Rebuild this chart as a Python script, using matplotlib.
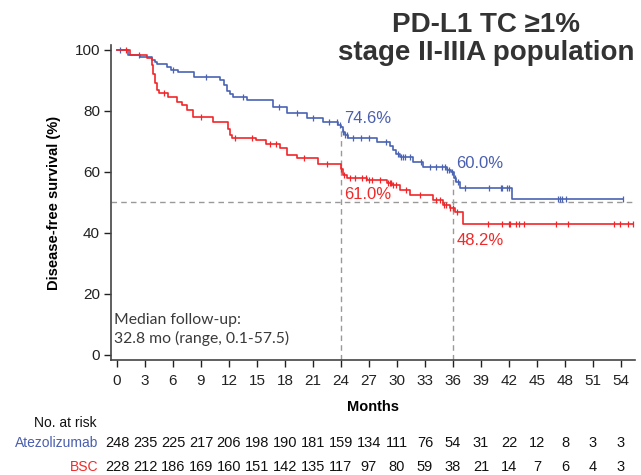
import numpy as np
import matplotlib
matplotlib.use("Agg")
import matplotlib.pyplot as plt

# Kaplan-Meier step data: event times (months) and survival (%) from each step onward
atezo_t = [0, 1.2, 2.5, 3.8, 4.1, 4.3, 5.4, 5.8, 6.5, 8.2, 11.0, 11.5, 11.8, 12.1, 12.4,
           13.9, 16.7, 18.2, 20.4, 22.1, 23.7, 24.0, 24.2, 24.4, 24.8, 27.9, 29.3, 29.6,
           29.9, 30.3, 31.7, 32.8, 35.4, 35.8, 36.1, 36.3, 36.8, 42.3]
atezo_s = [100, 98.4, 97.8, 96.8, 96.1, 95.4, 94.5, 93.4, 92.7, 91.2, 90.1, 88.5, 86.5, 85.4, 84.6,
           83.5, 81.3, 79.2, 77.6, 76.4, 75.5, 74.6, 73.0, 72.0, 71.0, 69.8, 68.4, 67.2,
           66.0, 64.9, 63.2, 61.6, 60.6, 60.0, 58.0, 56.7, 54.8, 51.0]
atezo_end = 54.2
atezo_cens = [0.3, 2.4, 6.0, 9.5, 13.5, 17.4, 19.3, 21.0, 22.7, 23.6, 23.9, 24.2, 24.4, 24.6,
              25.3, 26.1, 27.0, 28.8, 30.1, 30.4, 30.6, 30.9, 31.4, 32.6, 33.5, 34.2, 34.8, 35.1,
              35.4, 35.6, 35.9, 36.2, 36.5, 37.3, 39.9, 41.1, 41.3, 41.8, 42.0, 47.3, 47.5, 47.7,
              48.1, 54.2]

bsc_t = [0, 1.4, 3.2, 3.7, 3.9, 4.1, 4.3, 4.5, 5.5, 6.4, 7.0, 7.5, 8.1, 10.3, 11.9, 12.1,
         12.3, 14.9, 16.0, 17.5, 18.2, 19.3, 21.5, 24.0, 24.2, 24.6, 26.8, 28.9, 29.5, 30.3,
         31.4, 33.9, 34.9, 35.7, 36.2, 37.1]
bsc_s = [100, 98.4, 97.2, 95.0, 92.0, 89.0, 86.8, 85.7, 84.6, 83.0, 82.0, 80.3, 78.1, 76.4, 74.0, 72.0,
         71.0, 70.3, 69.0, 67.8, 65.5, 64.7, 62.7, 61.0, 58.9, 58.1, 57.4, 56.5, 55.6, 53.9,
         52.3, 50.7, 49.2, 48.2, 46.8, 42.8]
bsc_end = 55.3
bsc_cens = [1.0, 5.0, 9.0, 12.6, 14.5, 16.4, 17.0, 20.0, 22.5, 24.0, 24.3, 25.0, 25.5, 26.2,
            26.7, 27.0, 27.3, 28.2, 29.0, 29.2, 29.4, 29.6, 29.9, 31.0, 32.5, 34.2, 34.6, 35.0,
            35.3, 35.7, 36.0, 36.4, 39.8, 41.2, 42.0, 42.1, 42.7, 43.1, 43.6, 47.0, 48.3, 53.2,
            53.9, 54.7, 55.3]

# Landmark estimates
land_t = [24, 36]
atezo_land = [74.6, 60.0]
bsc_land = [61.0, 48.2]

months_ticks = list(range(0, 55, 3))
atezo_risk = [248, 235, 225, 217, 206, 198, 190, 181, 159, 134, 111, 76, 54, 31, 22, 12, 8, 3, 3]
bsc_risk = [228, 212, 186, 169, 160, 151, 142, 135, 117, 97, 80, 59, 38, 21, 14, 7, 6, 4, 3]

BLUE = "#4a63b3"
RED = "#f0262a"
BLUE_TXT = "#4a5fae"
RED_TXT = "#ee2a2a"
GREY = "#333333"

plt.rcParams["font.family"] = ["Liberation Sans", "DejaVu Sans"]

fig = plt.figure(figsize=(6.41, 4.75), dpi=100)
ax = fig.add_axes([111 / 641, 1 - 360 / 475, (635 - 111) / 641, (360 - 45) / 475])


def km_value(times, surv, t):
    idx = np.searchsorted(times, t, side="right") - 1
    return np.asarray(surv)[idx]


def draw_arm(times, surv, end, cens, color):
    tt = list(times) + [end]
    ss = list(surv) + [surv[-1]]
    ax.step(tt, ss, where="post", color=color, lw=1.2, zorder=3)
    cv = [km_value(times, surv, c) for c in cens]
    ax.plot(cens, cv, ls="none", marker="|", ms=5, mew=0.9, color=color, zorder=3)


draw_arm(atezo_t, atezo_s, atezo_end, atezo_cens, BLUE)
draw_arm(bsc_t, bsc_s, bsc_end, bsc_cens, RED)

# Reference lines for the median and the landmarks
dash = dict(color="#999999", lw=1.0, ls=(0, (4, 3)), zorder=1)
ax.plot([-0.64, 55.5], [50, 50], **dash)
for t, top in zip(land_t, atezo_land):
    ax.plot([t, t], [-1.7, top], **dash)

lab = dict(fontsize=12, va="center", ha="left")
ax.text(24.35, 77.5, f"{atezo_land[0]:.1f}%", color=BLUE_TXT, **lab)
ax.text(36.35, 62.8, f"{atezo_land[1]:.1f}%", color=BLUE_TXT, **lab)
ax.text(24.35, 52.5, f"{bsc_land[0]:.1f}%", color=RED_TXT, **lab)
ax.text(36.35, 37.5, f"{bsc_land[1]:.1f}%", color=RED_TXT, **lab)

ax.text(-0.35, 8.3, "Median follow-up:\n32.8 mo (range, 0.1-57.5)", fontsize=11.3,
        color="#3a3a3a", family=["Lato", "DejaVu Sans"], va="center", ha="left", linespacing=1.4)

ax.set_xlim(-0.64, 55.5)
ax.set_ylim(-1.7, 101.6)
ax.set_xticks(months_ticks)
ax.set_yticks([0, 20, 40, 60, 80, 100])
ax.tick_params(axis="both", labelsize=11, colors="#222222", length=5, width=1.0)
ax.tick_params(axis="x", pad=5)
ax.tick_params(axis="y", pad=3)
for s in ("top", "right"):
    ax.spines[s].set_visible(False)
for s in ("left", "bottom"):
    ax.spines[s].set_color("#444444")
    ax.spines[s].set_linewidth(1.2)

ax.set_ylabel("Disease-free survival (%)", fontsize=10.5, fontweight="bold", labelpad=10)
ax.set_xlabel("Months", fontsize=10.5, fontweight="bold", labelpad=9)

fig.text(486 / 641, 1 - 39 / 475, "PD-L1 TC \u22651%\nstage II-IIIA population", ha="center",
         va="center", fontsize=20, fontweight="bold", color=GREY, linespacing=1.15)

# Number-at-risk table
row_font = ["Liberation Sans Narrow", "Liberation Sans", "DejaVu Sans"]
fig.text(97 / 641, 1 - 423 / 475, "No. at risk", fontsize=10, va="center", ha="right", color="#111111")
fig.text(98 / 641, 1 - 443 / 475, "Atezolizumab", fontsize=10, va="center", ha="right", color=BLUE_TXT)
fig.text(98 / 641, 1 - 467 / 475, "BSC", fontsize=10, va="center", ha="right", color=RED_TXT)
for m, a, b in zip(months_ticks, atezo_risk, bsc_risk):
    x_fig = fig.transFigure.inverted().transform(ax.transData.transform((m, 0)))[0]
    fig.text(x_fig, 1 - 443 / 475, str(a), fontsize=10.5, family=row_font,
             va="center", ha="center", color="#111111")
    fig.text(x_fig, 1 - 467 / 475, str(b), fontsize=10.5, family=row_font,
             va="center", ha="center", color="#111111")

fig.savefig("out.png", dpi=100)
